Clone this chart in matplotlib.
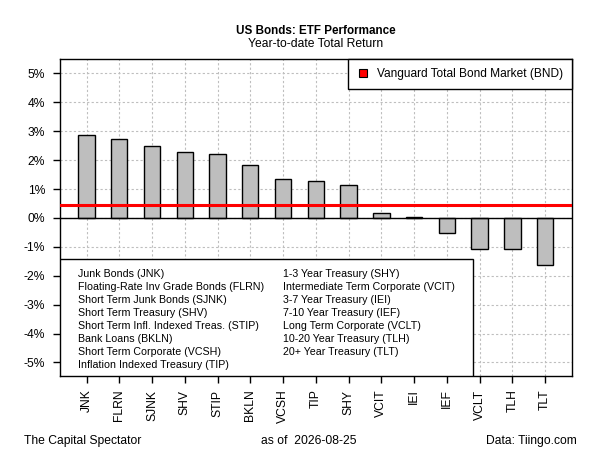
import numpy as np
import matplotlib
matplotlib.use("Agg")
import matplotlib.pyplot as plt
from matplotlib.lines import Line2D
from matplotlib.patches import Rectangle

plt.rcParams['font.family'] = ['Liberation Sans', 'DejaVu Sans']

# ytd total return, %
tickers = ['JNK', 'FLRN', 'SJNK', 'SHV', 'STIP', 'BKLN', 'VCSH', 'TIP', 'SHY',
           'VCIT', 'IEI', 'IEF', 'VCLT', 'TLH', 'TLT']
returns = [2.87, 2.73, 2.49, 2.27, 2.20, 1.82, 1.36, 1.29, 1.15,
           0.17, 0.03, -0.51, -1.06, -1.06, -1.63]
bnd_return = 0.44

names = ['Junk Bonds (JNK)', 'Floating-Rate Inv Grade Bonds (FLRN)',
         'Short Term Junk Bonds (SJNK)', 'Short Term Treasury (SHV)',
         'Short Term Infl. Indexed Treas. (STIP)', 'Bank Loans (BKLN)',
         'Short Term Corporate (VCSH)', 'Inflation Indexed Treasury (TIP)',
         '1-3 Year Treasury (SHY)', 'Intermediate Term Corporate (VCIT)',
         '3-7 Year Treasury (IEI)', '7-10 Year Treasury (IEF)',
         'Long Term Corporate (VCLT)', '10-20 Year Treasury (TLH)',
         '20+ Year Treasury (TLT)']

yticks = [5, 4, 3, 2, 1, 0, -1, -2, -3, -4, -5]
fs = 8.7      # axis / footer text
fs_leg = 7.7  # name list

fig = plt.figure(figsize=(6, 4.5), dpi=100)
ax = fig.add_axes([60/600, 1-376/450, 512.3/600, 316.7/450])

x = np.arange(len(tickers))
ax.set_xlim(-0.81, len(tickers) - 1 + 0.83)
ax.set_ylim(-5.47, 5.49)

# grid first, bars on top
for xi in x:
    ax.axvline(xi, color='#bebebe', ls=(0, (2, 2)), lw=0.8, zorder=0)
for yt in yticks:
    ax.axhline(yt, color='#bebebe', ls=(0, (2, 2)), lw=0.8, zorder=0)

ax.bar(x, returns, width=0.5, color='#bebebe', edgecolor='black', lw=1.0, zorder=2)
ax.axhline(0, color='black', lw=1.0, zorder=3)
ax.axhline(bnd_return, color='#ff0000', lw=2.2, zorder=4)

ax.set_xticks(x)
ax.set_xticklabels(tickers, rotation=90, fontsize=fs)
ax.set_yticks(yticks)
ax.set_yticklabels(['%d%%' % v for v in yticks], fontsize=fs)
ax.tick_params(direction='out', length=5.3, width=1.0)
ax.tick_params(axis='x', pad=4.5)
ax.tick_params(axis='y', pad=5.5)
for s in ax.spines.values():
    s.set_linewidth(1.0)

# top-right legend
h = Line2D([], [], marker='s', ls='none', markersize=6.3, markerfacecolor='#ff0000',
           markeredgecolor='black', markeredgewidth=0.8)
leg = ax.legend([h], ['Vanguard Total Bond Market (BND)'], loc='upper right',
                fontsize=8.6, frameon=True, fancybox=False, edgecolor='black',
                framealpha=1, borderaxespad=0, borderpad=0.75, handletextpad=0.7,
                handlelength=1.0)
leg.get_frame().set_linewidth(1.0)
leg.set_zorder(6)

# bottom-left name list
ax.add_patch(Rectangle((0, 0), 0.8056, 0.3685, transform=ax.transAxes,
                       facecolor='white', edgecolor='black', lw=1.0, zorder=5))
col1 = names[:8]
col2 = names[8:]
for i, t in enumerate(col1):
    ax.text(0.036, 0.321 - i * 0.041, t, transform=ax.transAxes, fontsize=fs_leg,
            va='center', ha='left', zorder=6)
for i, t in enumerate(col2):
    ax.text(0.4347, 0.321 - i * 0.041, t, transform=ax.transAxes, fontsize=fs_leg,
            va='center', ha='left', zorder=6)

fig.text(316/600, 1-30.7/450, 'US Bonds: ETF Performance', fontsize=8.4,
         fontweight='bold', ha='center', va='center')
fig.text(316/600, 1-44.3/450, 'Year-to-date Total Return', fontsize=fs,
         ha='center', va='center')

fig.text(24/600, 1-440.7/450, 'The Capital Spectator', fontsize=fs, ha='left', va='center')
fig.text(309/600, 1-440.7/450, 'as of  2026-08-25', fontsize=fs, ha='center', va='center')
fig.text(577/600, 1-440.7/450, 'Data: Tiingo.com', fontsize=fs, ha='right', va='center')

fig.savefig('out.png', dpi=100)
